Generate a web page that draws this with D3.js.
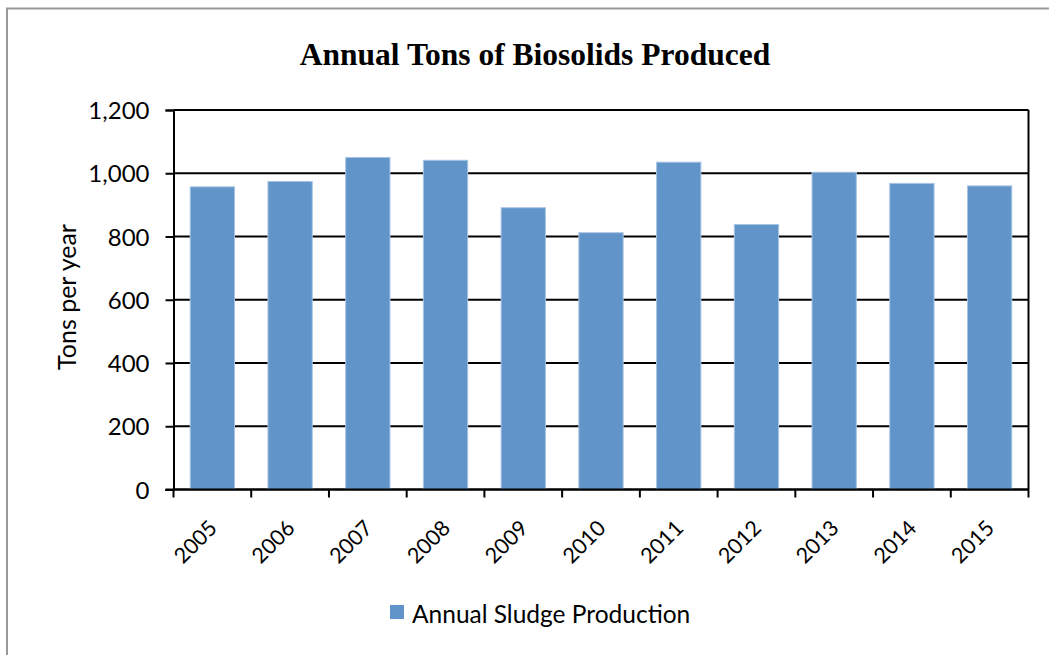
<!DOCTYPE html>
<html>
<head>
<meta charset="utf-8">
<script src="https://cdn.jsdelivr.net/npm/d3@7"></script>
<style>
  body { margin: 0; background: #fff; }
  svg { display: block; }
</style>
</head>
<body>
<script>
'use strict';

var years = ['2005', '2006', '2007', '2008', '2009', '2010', '2011', '2012', '2013', '2014', '2015'];
var tons = [957, 974, 1050, 1041, 891, 812, 1035, 838, 1003, 968, 960];
var yTicks = [0, 200, 400, 600, 800, 1000, 1200];
var seriesName = 'Annual Sludge Production';

(function() {
    var width = 1049, height = 655;
    var pLeft = 173.5, pRight = 1028.5, pTop = 110, pBottom = 489.5;
    var font = 'Lato, "Open Sans", sans-serif';

    var svg = d3.select('body').append('svg')
        .attr('width', width)
        .attr('height', height);

    // outer chart frame
    svg.append('rect')
        .attr('x', 7).attr('y', 8.5)
        .attr('width', width + 10).attr('height', height + 10)
        .attr('fill', 'none')
        .attr('stroke', '#999')
        .attr('stroke-width', 2);

    var x = d3.scaleBand()
        .domain(years)
        .range([pLeft, pRight])
        .paddingInner(0.43)
        .paddingOuter(0.215);

    var y = d3.scaleLinear()
        .domain([0, 1200])
        .range([pBottom, pTop]);

    // gridlines
    svg.append('g')
        .selectAll('line')
        .data(yTicks)
        .enter()
        .append('line')
        .attr('x1', pLeft).attr('x2', pRight)
        .attr('y1', d => y(d)).attr('y2', d => y(d))
        .attr('stroke', '#000')
        .attr('stroke-width', 2);

    // right border
    svg.append('line')
        .attr('x1', pRight).attr('x2', pRight)
        .attr('y1', pTop).attr('y2', pBottom)
        .attr('stroke', '#000')
        .attr('stroke-width', 2);

    // bars
    svg.append('g')
        .selectAll('rect')
        .data(tons)
        .enter()
        .append('rect')
        .attr('x', (d, i) => x(years[i]))
        .attr('y', d => y(d))
        .attr('width', x.bandwidth())
        .attr('height', d => pBottom - y(d))
        .attr('fill', '#6195c9')
        .attr('stroke', '#a9c4e3')
        .attr('stroke-width', 1);

    // y axis
    var yAxis = svg.append('g')
        .attr('transform', 'translate(' + pLeft + ',0)')
        .call(d3.axisLeft(y).tickValues(yTicks).tickSize(8).tickPadding(16)
            .tickFormat(d3.format(',')));
    yAxis.select('.domain').attr('stroke', '#000').attr('stroke-width', 2);
    yAxis.selectAll('.tick line').attr('stroke', '#000').attr('stroke-width', 2);
    yAxis.selectAll('text')
        .style('font-family', font)
        .style('font-size', '24px')
        .attr('fill', '#000')
        .attr('dy', '0.36em');

    // x axis with ticks at band boundaries
    var step = (pRight - pLeft) / years.length;
    var xAxis = svg.append('g');
    xAxis.append('line')
        .attr('x1', pLeft - 8).attr('x2', pRight)
        .attr('y1', pBottom).attr('y2', pBottom)
        .attr('stroke', '#000')
        .attr('stroke-width', 2);
    xAxis.selectAll('.xt')
        .data(d3.range(years.length + 1))
        .enter()
        .append('line')
        .attr('class', 'xt')
        .attr('x1', d => pLeft + d * step).attr('x2', d => pLeft + d * step)
        .attr('y1', pBottom).attr('y2', pBottom + 8)
        .attr('stroke', '#000')
        .attr('stroke-width', 2);
    xAxis.selectAll('text')
        .data(years)
        .enter()
        .append('text')
        .attr('transform', d => 'translate(' + (x(d) + x.bandwidth() / 2 + 6) + ',' + (pBottom + 40) + ') rotate(-45)')
        .attr('text-anchor', 'end')
        .style('font-family', font)
        .style('font-size', '21.5px')
        .text(d => d);

    // y title
    svg.append('text')
        .attr('transform', 'translate(76,297) rotate(-90)')
        .attr('text-anchor', 'middle')
        .style('font-family', font)
        .style('font-size', '25px')
        .text('Tons per year');

    // chart title
    svg.append('text')
        .attr('x', 535)
        .attr('y', 65)
        .attr('text-anchor', 'middle')
        .style('font-family', '"Liberation Serif", "Times New Roman", serif')
        .style('font-weight', 'bold')
        .style('font-size', '31.5px')
        .text('Annual Tons of Biosolids Produced');

    // legend
    var legend = svg.append('g');
    legend.append('rect')
        .attr('x', 390).attr('y', 605)
        .attr('width', 14).attr('height', 14)
        .attr('fill', '#6195c9');
    legend.append('text')
        .attr('x', 412)
        .attr('y', 623)
        .style('font-family', font)
        .style('font-size', '24.5px')
        .text(seriesName);
})();
</script>
</body>
</html>
